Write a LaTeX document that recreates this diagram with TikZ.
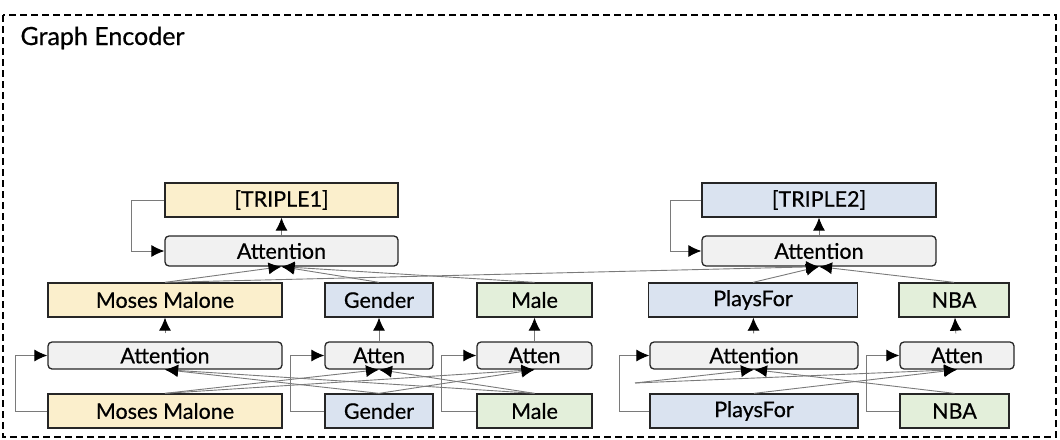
\documentclass[tikz,border=0pt]{standalone}
\usepackage{fontspec}
\setmainfont{Lato}[FakeBold=0.6]
\usetikzlibrary{arrows.meta}
\definecolor{entyellow}{HTML}{FBEFCC}
\definecolor{relblue}{HTML}{DAE3F0}
\definecolor{tailgreen}{HTML}{E3EFDA}
\definecolor{attgray}{HTML}{F1F1F1}
\definecolor{linegray}{HTML}{7A7A7A}
\begin{document}
\begin{tikzpicture}[
      x=1pt, y=-1pt,
      box/.style={
        draw=black!85,
        line width=1.3pt,
        inner sep=0pt,
        minimum height=34pt,
        font=\fontsize{21.5}{24}\selectfont
      },
      ent/.style={box, fill=entyellow},
      rel/.style={box, fill=relblue},
      tail/.style={box, fill=tailgreen},
      att/.style={box, fill=attgray, rounded corners=4pt},
      link/.style={-{Latex[length=13pt,width=12pt,black]}, draw=linegray, line width=0.9pt},
      res/.style={link}
    ]

    \useasboundingbox (0,0) rectangle (1060,439);
    \draw[line width=1.4pt, dash pattern=on 7pt off 4pt] (3,15) rectangle (1056,437);
    \node[anchor=base west, font=\fontsize{25}{28}\selectfont] (title) at (17,45) {Graph Encoder};

    % triple 1
    \node[ent, minimum width=233pt] (t1) at (281.5,200) {[TRIPLE1]};
    \node[att, minimum width=233pt, minimum height=30pt] (a1) at (281.5,251) {Attention};

    % triple 2
    \node[rel, minimum width=234pt] (t2) at (819,200) {[TRIPLE2]};
    \node[att, minimum width=234pt, minimum height=30pt] (a2) at (819,251) {Attention};

    % middle row
    \node[ent, minimum width=234pt] (mm) at (165,300) {Moses Malone};
    \node[rel, minimum width=108pt] (gd) at (379,300) {Gender};
    \node[tail, minimum width=115pt] (ml) at (534.5,300) {Male};
    \node[rel, minimum width=209pt] (pf) at (753,300) {PlaysFor};
    \node[tail, minimum width=110pt] (nb) at (954,300) {NBA};

    % attention row
    \node[att, minimum width=234pt, minimum height=27pt] (amm) at (165,355.5) {Attention};
    \node[att, minimum width=108pt, minimum height=27pt] (agd) at (379,355.5) {Atten};
    \node[att, minimum width=115pt, minimum height=27pt] (aml) at (534.5,355.5) {Atten};
    \node[att, minimum width=208pt, minimum height=27pt] (apf) at (754,355.5) {Attention};
    \node[att, minimum width=114pt, minimum height=27pt] (anb) at (957,355.5) {Atten};

    % input row
    \node[ent, minimum width=234pt] (imm) at (165,411) {Moses Malone};
    \node[rel, minimum width=108pt] (igd) at (379,411) {Gender};
    \node[tail, minimum width=115pt] (iml) at (534.5,411) {Male};
    \node[rel, minimum width=208pt] (ipf) at (754,411) {PlaysFor};
    \node[tail, minimum width=109pt] (inb) at (954.5,411) {NBA};

    \coordinate (hd) at (635,383);

    % residual lines
    \draw[res] (t1.west) -- ++(-33,0) |- (a1.west);
    \draw[res] (t2.west) -- ++(-31,0) |- (a2.west);
    \draw[res] (imm.west) -- ++(-32,0) |- (amm.west);
    \draw[res] (igd.west) -- ++(-34,0) |- (agd.west);
    \draw[res] (iml.west) -- ++(-35,0) |- (aml.west);
    \draw[res] (ipf.west) -- ++(-30,0) |- (apf.west);
    \draw[res] (inb.west) -- ++(-33,0) |- (anb.west);

    % outputs
    \draw[link] (a1) -- (t1);
    \draw[link] (a2) -- (t2);
    \draw[link, shorten <=8pt] (amm) -- (mm);
    \draw[link] (agd) -- (gd);
    \draw[link] (aml) -- (ml);
    \draw[link, shorten <=8pt] (apf) -- (pf);
    \draw[link, shorten <=8pt] (anb) -- (nb);

    % upper attention
    \draw[link] (mm.north) -- (a1.south);
    \draw[link] (gd.north) -- (a1.south);
    \draw[link] (ml.north) -- (a1.south);
    \draw[link] (mm.north) -- (a2.south);
    \draw[link] (pf.north) -- (a2.south);
    \draw[link] (nb.north) -- (a2.south);

    % lower attention
    \draw[link] (igd.north) -- (amm.south);
    \draw[link] (iml.north) -- (amm.south);
    \draw[link] (imm.north) -- (agd.south);
    \draw[link] (iml.north) -- (agd.south);
    \draw[link] (imm.north) -- (aml.south);
    \draw[link] (igd.north) -- (aml.south);
    \draw[link] (hd) -- (apf.south);
    \draw[link] (inb.north) -- (apf.south);
    \draw[link] (hd) -- (anb.south);
    \draw[link] (ipf.north) -- (anb.south);

  \end{tikzpicture}
\end{document}
